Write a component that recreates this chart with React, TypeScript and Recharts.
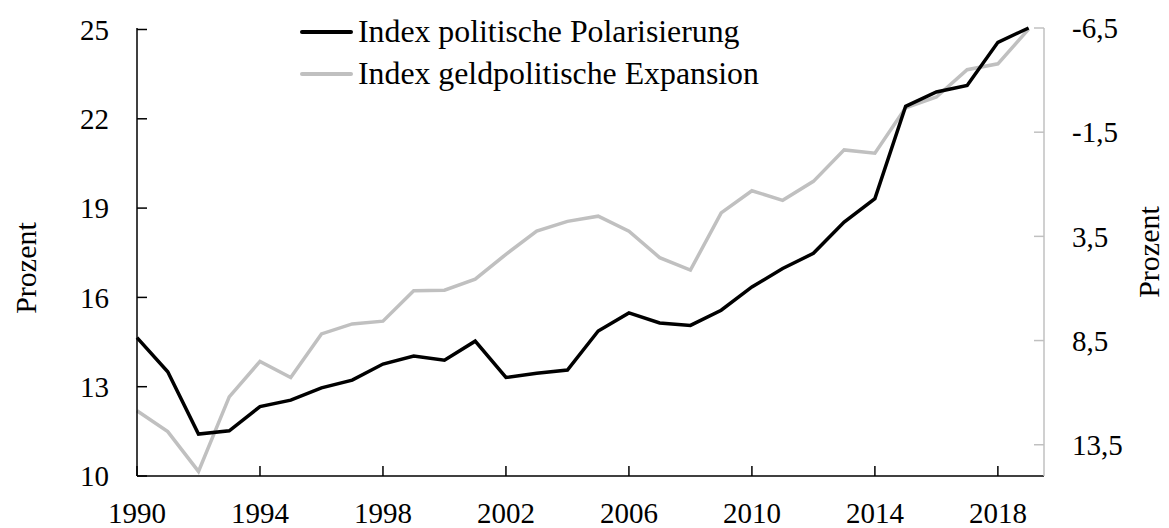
import { Line, LineChart, XAxis, YAxis } from 'recharts';

const FONT = '"Liberation Serif", "Times New Roman", serif';

const YEARS = [
  1990, 1991, 1992, 1993, 1994, 1995, 1996, 1997, 1998, 1999,
  2000, 2001, 2002, 2003, 2004, 2005, 2006, 2007, 2008, 2009,
  2010, 2011, 2012, 2013, 2014, 2015, 2016, 2017, 2018, 2019,
];

// Index politische Polarisierung (linke Achse)
const POLARISIERUNG = [
  14.65, 13.5, 11.41, 11.52, 12.33, 12.55, 12.96, 13.22, 13.76, 14.03,
  13.89, 14.53, 13.31, 13.45, 13.56, 14.87, 15.48, 15.14, 15.06, 15.57,
  16.35, 16.97, 17.48, 18.53, 19.32, 22.42, 22.9, 23.12, 24.57, 25.05,
];

// Index geldpolitische Expansion (rechte Achse, umgekehrt)
const GELDPOLITIK = [
  11.87, 12.87, 14.78, 11.2, 9.5, 10.27, 8.18, 7.7, 7.57, 6.11,
  6.08, 5.55, 4.36, 3.25, 2.78, 2.53, 3.25, 4.52, 5.12, 2.37,
  1.31, 1.77, 0.86, -0.65, -0.49, -2.67, -3.19, -4.5, -4.78, -6.45,
];

const X_TICKS = [1990, 1994, 1998, 2002, 2006, 2010, 2014, 2018];
const LEFT_TICKS = [10, 13, 16, 19, 22, 25];
const RIGHT_TICKS = [-6.5, -1.5, 3.5, 8.5, 13.5];

const SERIES = [
  { key: 'pol', name: 'Index politische Polarisierung', color: '#000000' },
  { key: 'geld', name: 'Index geldpolitische Expansion', color: '#c0c0c0' },
];

const data = YEARS.map((year, i) => ({ year, pol: POLARISIERUNG[i], geld: GELDPOLITIK[i] }));

const fmtComma = (v: number) => v.toFixed(1).replace('.', ',');

function AxisTitle({ px, py }: { px: number; py: number }) {
  return (
    <text
      x={px}
      y={py}
      transform={`rotate(-90 ${px} ${py})`}
      textAnchor="middle"
      dominantBaseline="central"
      fontFamily={FONT}
      fontSize={30}
      fill="#000"
    >
      Prozent
    </text>
  );
}

export default function App() {
  const tickStyle = { fontSize: 29, fill: '#000', fontFamily: FONT };
  return (
    <div style={{ position: 'absolute', left: 0, top: 0, width: 1169, height: 528, background: '#fff' }}>
      <LineChart width={1169} height={528} data={data} margin={{ top: 28, right: 25, bottom: 7, left: 37 }}>
        <XAxis
          dataKey="year"
          type="number"
          domain={[1990, 2019.5]}
          ticks={X_TICKS}
          height={45}
          tick={tickStyle}
          tickSize={-10}
          tickMargin={36}
          axisLine={{ stroke: '#000', strokeWidth: 1.5 }}
          tickLine={{ stroke: '#000', strokeWidth: 1.5 }}
        />
        <YAxis
          yAxisId="left"
          orientation="left"
          domain={[10, 25]}
          ticks={LEFT_TICKS}
          width={100}
          tick={tickStyle}
          tickSize={-10}
          tickMargin={38}
          axisLine={{ stroke: '#000', strokeWidth: 1.5 }}
          tickLine={{ stroke: '#000', strokeWidth: 1.5 }}
          label={<AxisTitle px={25} py={268} />}
        />
        <YAxis
          yAxisId="right"
          orientation="right"
          reversed
          domain={[-6.5, 15]}
          ticks={RIGHT_TICKS}
          tickFormatter={fmtComma}
          width={100}
          tick={tickStyle}
          tickSize={-10}
          tickMargin={38}
          axisLine={{ stroke: '#c0c0c0', strokeWidth: 1.5 }}
          tickLine={{ stroke: '#c0c0c0', strokeWidth: 1.5 }}
          label={<AxisTitle px={1148} py={252} />}
        />
        <Line yAxisId="right" type="linear" dataKey="geld" stroke="#c0c0c0" strokeWidth={3.5} dot={false} isAnimationActive={false} />
        <Line yAxisId="left" type="linear" dataKey="pol" stroke="#000000" strokeWidth={3.5} dot={false} isAnimationActive={false} />
      </LineChart>
      <div style={{ position: 'absolute', left: 300, top: 11, fontFamily: FONT, fontSize: 31.8, color: '#000' }}>
        {SERIES.map((s) => (
          <div key={s.key} style={{ display: 'flex', alignItems: 'center', height: 42, whiteSpace: 'nowrap' }}>
            <span style={{ display: 'inline-block', width: 53, height: 4, background: s.color, borderRadius: 2 }} />
            <span style={{ marginLeft: 5 }}>{s.name}</span>
          </div>
        ))}
      </div>
    </div>
  );
}
